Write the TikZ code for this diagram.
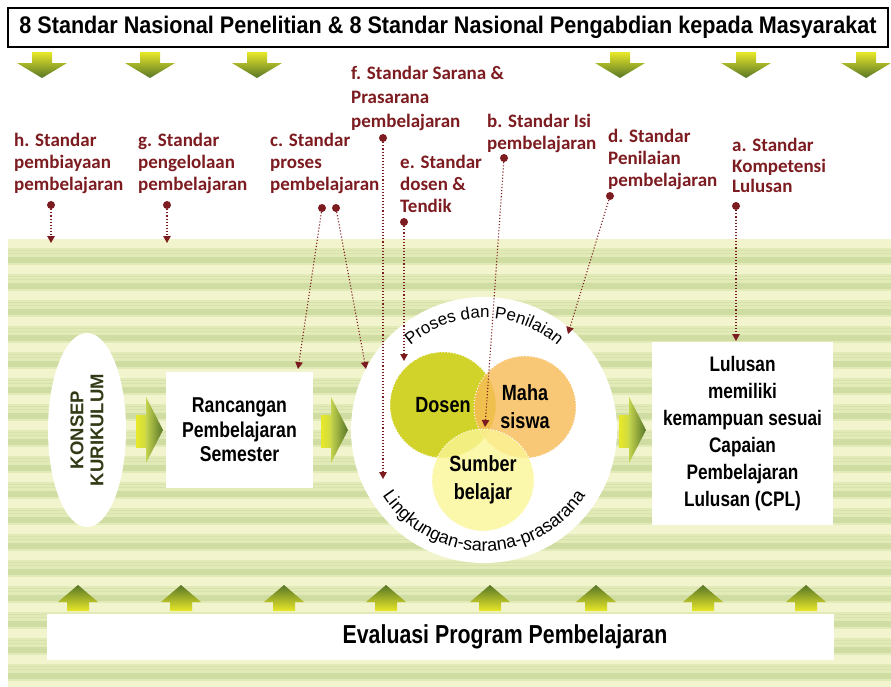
\documentclass[tikz,border=0pt]{standalone}
\usepackage{fontspec}
\setmainfont{Liberation Sans}
\newfontfamily\nb{Liberation Sans}[FakeStretch=0.82]
\newfontfamily\tb{Liberation Sans}[FakeStretch=0.9]
\newfontfamily\lab{Carlito}
\newfontfamily\arcf{Liberation Sans}
\usetikzlibrary{arrows.meta,shapes.geometric,decorations.text}
\definecolor{lblred}{RGB}{125,28,32}
\definecolor{bgbase}{RGB}{226,234,184}
\definecolor{bglight}{RGB}{242,244,205}
\definecolor{bgdark}{RGB}{207,220,162}
\definecolor{bgline}{RGB}{216,226,172}
\definecolor{ylw}{RGB}{232,232,40}
\definecolor{grn}{RGB}{88,118,40}
\definecolor{headl}{RGB}{196,212,78}
\definecolor{dosenc}{RGB}{210,211,42}
\definecolor{mahac}{RGB}{247,188,88}
\definecolor{sumberc}{RGB}{251,245,150}
\definecolor{konsepc}{RGB}{48,58,20}
\tikzset{
  lbl/.style={anchor=north west, inner sep=0, align=left, text=lblred,
    font=\lab\bfseries\fontsize{19}{22}\selectfont},
  dotnode/.style={circle, fill=lblred, inner sep=0, minimum size=8},
  conn/.style={draw=lblred, dotted, line width=1.1, -{Triangle[width=7.5pt,length=7pt]}},
  whitebox/.style={fill=white, inner sep=0, align=center, text=black},
  venn/.style={circle, inner sep=0, draw=white, dotted, line width=1, align=center,
    font=\nb\bfseries\fontsize{22}{28}\selectfont, text opacity=1}
}
\begin{document}
\begin{tikzpicture}[x=1pt,y=1pt]
\useasboundingbox (0,0) rectangle (891,-686);
\fill[white] (0,0) rectangle (891,-686);
% striped background
\begin{scope}
\clip (8,-239) rectangle (891,-686);
\fill[bgbase] (8,-239) rectangle (891,-686);
\foreach \k in {0,...,17} {
  \fill[bglight] (8,{-239-26*\k}) rectangle (891,{-248-26*\k});
  \fill[bgline] (8,{-250-26*\k}) rectangle (891,{-251-26*\k});
  \fill[bgline] (8,{-253-26*\k}) rectangle (891,{-254-26*\k});
  \fill[bgdark] (8,{-257-26*\k}) rectangle (891,{-263-26*\k});
}
\end{scope}
% title
\node[draw=black, line width=1.6, fill=white, minimum width=880, minimum height=39, inner sep=0,
  font=\tb\bfseries\fontsize{24}{26}\selectfont] (title) at (448,-27.5)
  {8 Standar Nasional Penelitian \& 8 Standar Nasional Pengabdian kepada Masyarakat};
% top down arrows
\foreach \x in {42,150,257,620,746,866} {
  \shade[top color=ylw, bottom color=grn] (\x-10,-52) -- (\x+10,-52) -- (\x+10,-63) -- (\x+25,-63)
    -- (\x,-78) -- (\x-25,-63) -- (\x-10,-63) -- cycle;
}
% bottom up arrows
\foreach \x in {78,181,284,386,490,596,703,806} {
  \shade[top color=grn, bottom color=ylw] (\x,-585) -- (\x+20,-602) -- (\x+11,-602) -- (\x+11,-611)
    -- (\x-11,-611) -- (\x-11,-602) -- (\x-20,-602) -- cycle;
}
% right block arrows
\foreach \x in {136,321,619} {
  \shade[left color=ylw, right color=headl!80!ylw] (\x,-415) rectangle (\x+11,-447);
  \shade[left color=headl, right color=grn] (\x+10,-397) -- (\x+27,-430) -- (\x+10,-463) -- cycle;
}
% konsep kurikulum
\node[ellipse, rotate=90, fill=white, minimum width=194, minimum height=78, inner sep=0, align=center,
  text=konsepc, font=\bfseries\fontsize{18.5}{20}\selectfont] (konsep) at (87,-430) {KONSEP\\KURIKULUM};
% rancangan
\node[whitebox, minimum width=147, minimum height=116, font=\nb\bfseries\fontsize{21.5}{24.5}\selectfont]
  (rps) at (239.5,-430) {Rancangan\\Pembelajaran\\Semester};
% lulusan
\node[whitebox, minimum width=181, minimum height=183, font=\nb\bfseries\fontsize{21}{27}\selectfont]
  (cpl) at (742.5,-433.5) {Lulusan\\memiliki\\kemampuan sesuai\\Capaian\\Pembelajaran\\Lulusan (CPL)};
% evaluasi
\node[whitebox, minimum width=787, minimum height=46] (eval) at (440.5,-637) {};
\node[inner sep=0, font=\nb\bfseries\fontsize{26}{28}\selectfont] (evaltxt) at (505,-637) {Evaluasi Program Pembelajaran};
% process circle
\node[circle, fill=white, minimum size=266, inner sep=0] (pc) at (484,-430) {};
\node[venn, minimum size=106, fill=dosenc] (dosen) at (443,-405) {Dosen};
\node[venn, minimum size=102, fill=mahac, fill opacity=0.82] (maha) at (525,-407) {Maha\\siswa};
\node[venn, minimum size=102, fill=sumberc, fill opacity=0.8] (sumber) at (483,-480) {Sumber\\belajar};
\path[decorate, decoration={text along path, text align=center,
  text={|\arcf\fontsize{17}{17}\selectfont|Proses dan Penilaian}}]
  (484,-430) ++(152:112) arc[start angle=152, end angle=28, radius=112];
\path[decorate, decoration={text along path, text align=center,
  text={|\arcf\fontsize{18}{18}\selectfont|Lingkungan-sarana-prasarana}}]
  (484,-430) ++(196:121) arc[start angle=196, end angle=344, radius=121];
% labels
\node[lbl] (lh) at (14,-133) {h. Standar\\pembiayaan\\pembelajaran};
\node[lbl] (lg) at (138,-133) {g. Standar\\pengelolaan\\pembelajaran};
\node[lbl] (lc) at (270,-133) {c. Standar\\proses\\pembelajaran};
\node[lbl, font=\lab\bfseries\fontsize{19}{24}\selectfont] (lf) at (351,-66) {f. Standar Sarana \&\\Prasarana\\pembelajaran};
\node[lbl] (le) at (400,-155) {e. Standar\\dosen \&\\Tendik};
\node[lbl] (lb) at (487,-114) {b. Standar Isi\\pembelajaran};
\node[lbl] (ld) at (608,-129) {d. Standar\\Penilaian\\pembelajaran};
\node[lbl, font=\lab\bfseries\fontsize{19}{20.5}\selectfont] (la) at (732,-138) {a. Standar\\Kompetensi\\Lulusan};
% dots and connectors
\node[dotnode] (dh) at (51,-205) {};
\node[dotnode] (dg) at (167,-205) {};
\node[dotnode] (dc1) at (322,-208) {};
\node[dotnode] (dc2) at (336,-208) {};
\node[dotnode] (df) at (383,-138) {};
\node[dotnode] (de) at (404,-222) {};
\node[dotnode] (db) at (504,-158) {};
\node[dotnode] (dd) at (610,-196) {};
\node[dotnode] (da) at (736,-206) {};
\coordinate (eh) at (51,-243);
\coordinate (eg) at (167,-243);
\coordinate (ec1) at (298,-369);
\coordinate (ec2) at (366,-369);
\coordinate (ef) at (383,-479);
\coordinate (ee) at (404,-361);
\coordinate (eb) at (485,-427);
\coordinate (ed) at (568,-334);
\coordinate (ea) at (736,-341);
\draw[conn] (dh) -- (eh);
\draw[conn] (dg) -- (eg);
\draw[conn] (dc1) -- (ec1);
\draw[conn] (dc2) -- (ec2);
\draw[conn] (df) -- (ef);
\draw[conn] (de) -- (ee);
\draw[conn] (db) -- (eb);
\draw[conn] (dd) -- (ed);
\draw[conn] (da) -- (ea);
\end{tikzpicture}
\end{document}
